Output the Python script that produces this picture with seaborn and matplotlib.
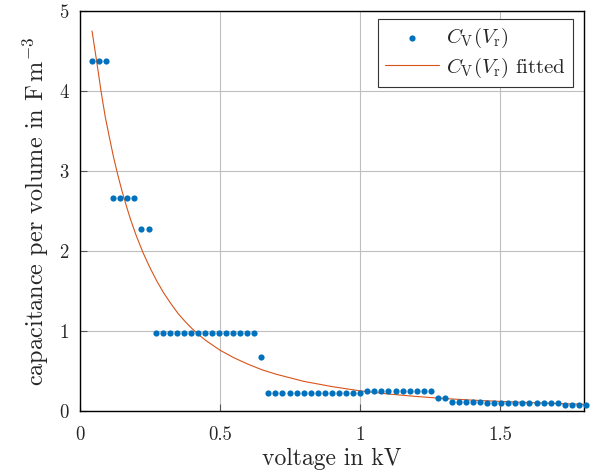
import matplotlib
matplotlib.use("Agg")
import matplotlib.pyplot as plt
import seaborn as sns
import pandas as pd

# measured samples
voltage_kV = [0.043, 0.068, 0.093, 0.119, 0.144, 0.169, 0.194, 0.219, 0.245, 0.270,
              0.295, 0.320, 0.345, 0.371, 0.396, 0.421, 0.446, 0.471, 0.497, 0.522,
              0.547, 0.572, 0.597, 0.623, 0.648, 0.673, 0.698, 0.723, 0.749, 0.774,
              0.799, 0.824, 0.849, 0.875, 0.900, 0.925, 0.950, 0.975, 1.001, 1.026,
              1.051, 1.076, 1.101, 1.127, 1.152, 1.177, 1.202, 1.227, 1.253, 1.278,
              1.303, 1.328, 1.353, 1.379, 1.404, 1.429, 1.454, 1.479, 1.505, 1.530,
              1.555, 1.580, 1.605, 1.631, 1.656, 1.681, 1.706, 1.731, 1.757, 1.782,
              1.807]
capacitance = ([4.38] * 3 + [2.66] * 4 + [2.27] * 2 + [0.98] * 15 + [0.67]
               + [0.23] * 14 + [0.245] * 10 + [0.165] * 2
               + [0.11, 0.11, 0.11, 0.11, 0.11, 0.105, 0.105, 0.105,
                  0.10, 0.10, 0.10, 0.10, 0.10, 0.10, 0.095, 0.095]
               + [0.075] * 4)

# fitted curve
fit_V = [0.043, 0.06, 0.075, 0.09, 0.105, 0.12, 0.135, 0.15, 0.165, 0.18, 0.20,
         0.225, 0.25, 0.275, 0.30, 0.325, 0.35, 0.375, 0.40, 0.425, 0.45, 0.50,
         0.55, 0.60, 0.65, 0.70, 0.80, 0.90, 1.00, 1.10, 1.20, 1.30, 1.40, 1.50,
         1.60, 1.70, 1.80]
fit_C = [4.75, 4.36, 4.00, 3.68, 3.42, 3.17, 2.95, 2.75, 2.57, 2.40, 2.20,
         1.98, 1.79, 1.62, 1.47, 1.34, 1.22, 1.12, 1.03, 0.95, 0.88, 0.76,
         0.665, 0.585, 0.515, 0.46, 0.37, 0.305, 0.252, 0.213, 0.182, 0.156, 0.136,
         0.12, 0.106, 0.094, 0.084]

x_ticks = [0, 0.5, 1, 1.5]
x_ticklabels = ["0", "0.5", "1", "1.5"]
y_ticks = [0, 1, 2, 3, 4, 5]

sns.set_theme(style="white")
plt.rcParams["font.family"] = ["cmr10", "DejaVu Serif"]
plt.rcParams["mathtext.fontset"] = "cm"
plt.rcParams["axes.formatter.use_mathtext"] = True

BLUE = "#0072BD"
ORANGE = "#D95319"

fig = plt.figure(figsize=(5.99, 4.76), dpi=100)
ax = fig.add_axes([80 / 599, 65 / 476, 504 / 599, 400 / 476])

df_meas = pd.DataFrame({"V": voltage_kV, "C": capacitance})
df_fit = pd.DataFrame({"V": fit_V, "C": fit_C})

sns.scatterplot(data=df_meas, x="V", y="C", ax=ax, color=BLUE, s=20,
                linewidth=0, label=r"$C_\mathrm{V}(V_\mathrm{r})$", zorder=3,
                clip_on=False)
sns.lineplot(data=df_fit, x="V", y="C", ax=ax, color=ORANGE, linewidth=0.8,
             estimator=None, label=r"$C_\mathrm{V}(V_\mathrm{r})$ fitted", zorder=2)

ax.set_xlim(0, 1.8)
ax.set_ylim(0, 5)
ax.set_xticks(x_ticks)
ax.set_xticklabels(x_ticklabels)
ax.set_yticks(y_ticks)
ax.set_yticklabels([str(t) for t in y_ticks])
ax.grid(True, color="#bfbfbf", linewidth=0.8)
ax.set_axisbelow(True)
ax.tick_params(axis="both", direction="in", length=5, width=0.8, color="#555555",
               labelsize=13.5, left=True, bottom=True)
ax.tick_params(axis="x", pad=11)
ax.tick_params(axis="y", pad=8)
for sp in ax.spines.values():
    sp.set_color("black")
    sp.set_linewidth(1.0)

ax.set_xlabel("voltage in kV", fontsize=17, labelpad=3)
ax.set_ylabel(r"capacitance per volume in $\mathrm{F\,m^{-3}}$", fontsize=17.5, labelpad=6)

leg = ax.legend(loc="upper right", fontsize=15, frameon=True, fancybox=False,
                edgecolor="#333333", framealpha=1, borderpad=0.35, labelspacing=0.25,
                handlelength=2.6, handletextpad=0.3, borderaxespad=0,
                bbox_to_anchor=(0.978, 0.98))
leg.get_frame().set_linewidth(0.8)

fig.savefig("out.png", dpi=100)
